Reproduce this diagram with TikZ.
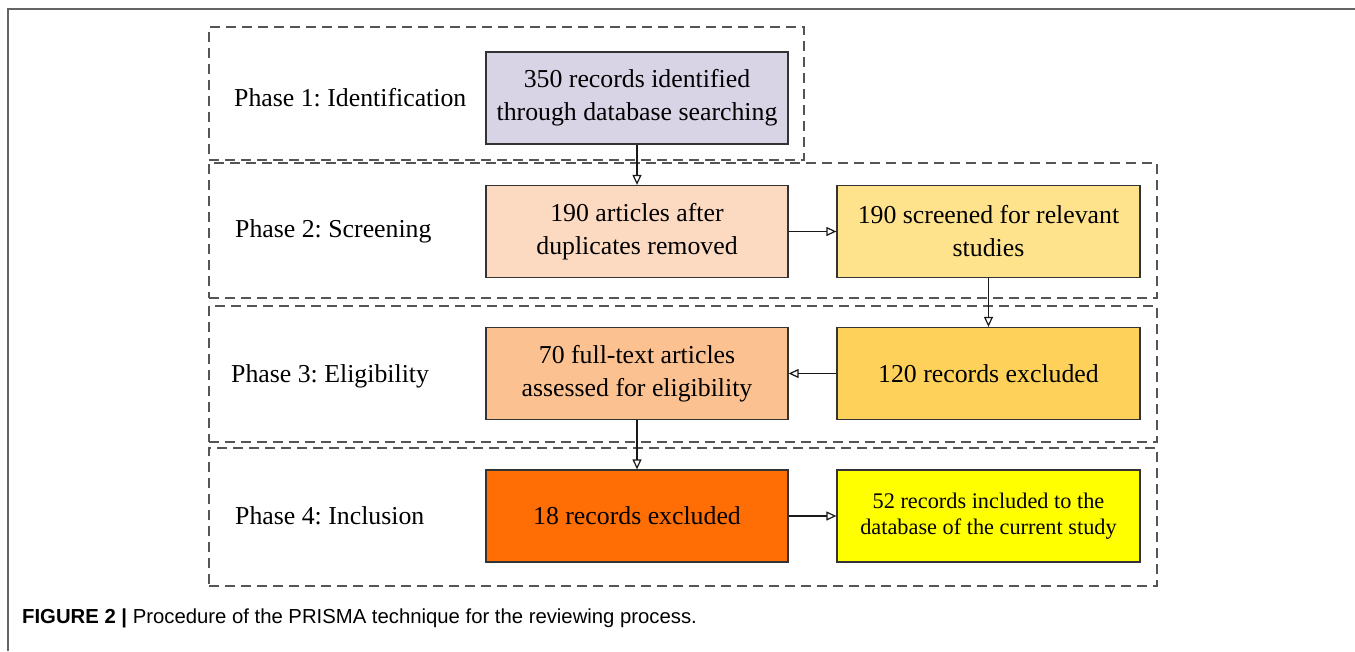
\documentclass[tikz,border=0pt]{standalone}
\usepackage{fontspec}
\setmainfont{Liberation Serif}
\newfontfamily\capfont{Liberation Sans}
\usetikzlibrary{arrows.meta}
\frenchspacing
\definecolor{cA}{RGB}{216,211,229}
\definecolor{cB}{RGB}{252,217,193}
\definecolor{cC}{RGB}{255,226,140}
\definecolor{cD}{RGB}{252,193,145}
\definecolor{cE}{RGB}{254,210,90}
\definecolor{cF}{RGB}{255,110,5}
\definecolor{cG}{RGB}{255,255,0}
\definecolor{dashgray}{RGB}{85,85,85}
\definecolor{framegray}{RGB}{100,100,100}
\tikzset{
  phasebox/.style={draw=dashgray, line width=1.8pt, dash pattern=on 10pt off 6pt, rectangle, inner sep=0pt},
  stepbox/.style={draw=black!80, line width=1.3pt, rectangle, minimum height=92pt, align=center, inner sep=2pt,
    font=\fontsize{25.8}{33}\selectfont},
  lbl/.style={anchor=west, font=\fontsize{25.8}{31}\selectfont, inner sep=0pt},
  arr/.style={draw=black!90, line width=1.5pt, -{Triangle[open, length=10pt, width=9pt, line width=1.2pt]}}
}
\begin{document}
\begin{tikzpicture}[x=1pt,y=-1pt]
\useasboundingbox (0,0) rectangle (1355,651);
\fill[white] (0,0) rectangle (1355,651);
\coordinate (fa) at (8,651);
\coordinate (fb) at (8,9);
\coordinate (fc) at (1355,9);
\draw[framegray, line width=1.5pt] (fa) -- (fb) -- (fc);

\node[phasebox, minimum width=595pt, minimum height=133pt] (p1) at (506.5,93.5) {};
\node[phasebox, minimum width=948pt, minimum height=135pt] (p2) at (683,230.5) {};
\node[phasebox, minimum width=948pt, minimum height=136pt] (p3) at (683,374) {};
\node[phasebox, minimum width=948pt, minimum height=138pt] (p4) at (683,517) {};

\node[lbl] (l1) at (234,98) {Phase 1: Identification};
\node[lbl] (l2) at (235,231) {Phase 2: Screening};
\node[lbl] (l3) at (231,376) {Phase 3: Eligibility};
\node[lbl] (l4) at (235,516) {Phase 4: Inclusion};

\node[stepbox, fill=cA, minimum width=302pt] (b1) at (637,98) {350 records identified\\through database searching};
\node[stepbox, fill=cB, minimum width=302pt] (b2) at (637,231.5) {190 articles after\\duplicates removed};
\node[stepbox, fill=cC, minimum width=303pt] (b3) at (988.5,231.5) {190 screened for relevant\\studies};
\node[stepbox, fill=cD, minimum width=302pt] (b4) at (637,373.5) {70 full-text articles\\assessed for eligibility};
\node[stepbox, fill=cE, minimum width=303pt] (b5) at (988.5,373.5) {120 records excluded};
\node[stepbox, fill=cF, minimum width=302pt] (b6) at (637,516) {18 records excluded};
\node[stepbox, fill=cG, minimum width=303pt, font=\fontsize{22.3}{26}\selectfont] (b7) at (988.5,516) {52 records included to the\\database of the current study};

\draw[arr] (b1) -- (b2);
\draw[arr] (b2) -- (b3);
\draw[arr] (b3) -- (b5);
\draw[arr] (b5) -- (b4);
\draw[arr] (b4) -- (b6);
\draw[arr] (b6) -- (b7);

\node[anchor=west, inner sep=0pt, font=\capfont\fontsize{20.3}{23}\selectfont] (cap) at (22,618)
  {\textbf{FIGURE 2 |} Procedure of the PRISMA technique for the reviewing process.};
\end{tikzpicture}
\end{document}
